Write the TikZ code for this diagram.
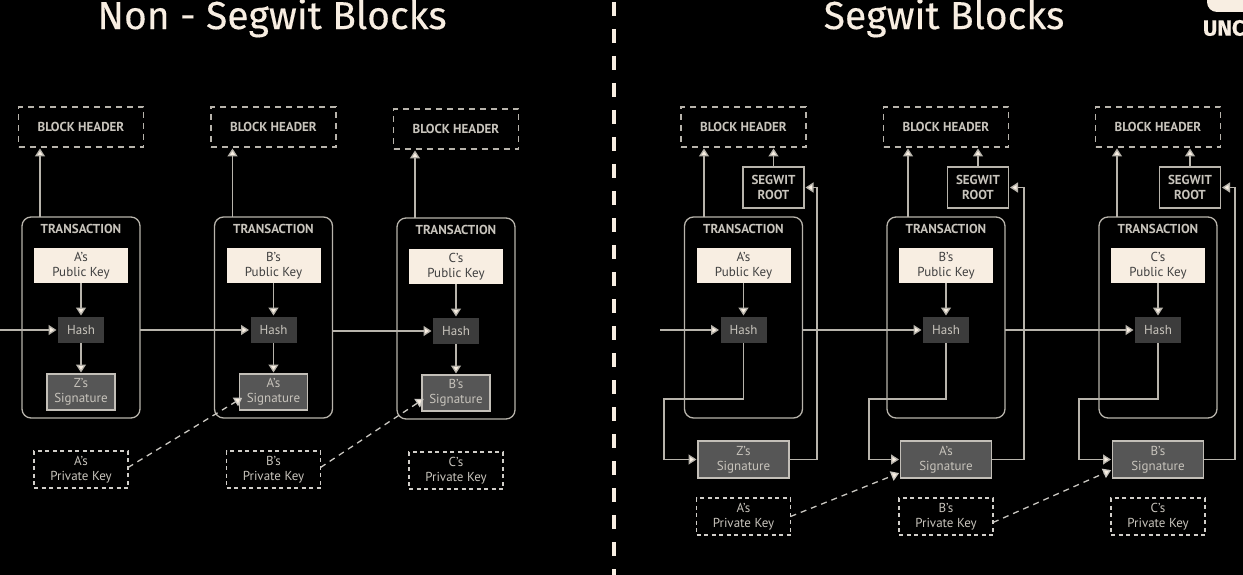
\documentclass[tikz,border=0pt]{standalone}
\usepackage{fontspec}
\setmainfont{PT Sans}
\newfontfamily\titlefont[FakeBold=0.3]{Fira Sans}
\usetikzlibrary{arrows.meta,positioning}

\definecolor{cream}{HTML}{F8EEE2}
\definecolor{linegray}{HTML}{B8B4AC}
\definecolor{labelgray}{HTML}{C8C4BC}
\definecolor{hashfill}{HTML}{3C3C3C}
\definecolor{signfill}{HTML}{565656}

\begin{document}
\begin{tikzpicture}[
    x=1pt, y=-1pt,
    node distance=30pt,
    every node/.style={font=\fontsize{13pt}{15pt}\selectfont, align=center, text=labelgray, outer sep=0pt, inner sep=0pt},
    title/.style={font=\titlefont\fontsize{39pt}{42pt}\selectfont, text=cream},
    header/.style={rectangle, draw=linegray, line width=1.3pt, dash pattern=on 6pt off 5pt, minimum width=125pt, minimum height=40pt, font=\bfseries\fontsize{13pt}{15pt}\selectfont},
    root/.style={rectangle, draw=linegray, line width=1.3pt, minimum width=61pt, minimum height=41pt, font=\bfseries\fontsize{13pt}{15pt}\selectfont},
    txn/.style={rectangle, draw=linegray, line width=1.3pt, rounded corners=9pt, minimum width=118pt, minimum height=201pt},
    txnlabel/.style={font=\bfseries\fontsize{13pt}{15pt}\selectfont},
    pubkey/.style={rectangle, fill=cream, minimum width=94pt, minimum height=35pt, text=black!75},
    hash/.style={rectangle, fill=hashfill, minimum width=46pt, minimum height=26pt},
    sign/.style={rectangle, draw=linegray!85, fill=signfill, line width=1.2pt, minimum width=68pt, minimum height=36pt},
    signwide/.style={sign, minimum width=91pt, minimum height=37pt},
    privkey/.style={rectangle, draw=linegray!65, line width=1.1pt, dash pattern=on 4pt off 3.5pt, minimum width=94pt, minimum height=37pt},
    arrow/.style={-{Triangle[length=8pt,width=10pt,fill=cream]}, draw=linegray, line width=1.3pt, shorten >=1.5pt},
    dasharrow/.style={arrow, draw=linegray!75, dash pattern=on 6pt off 5pt}
]
    \fill [black] (0,0) rectangle (1243,575);
    \useasboundingbox (0,0) rectangle (1243,575);

    \node (titleA) [title] at (272,18) {Non - Segwit Blocks};
    \node (titleB) [title] at (944,18) {Segwit Blocks};
    \coordinate (sepTop) at (614,2);
    \coordinate (sepBot) at (614,575);
    \draw [cream, line width=3.5pt, dash pattern=on 14pt off 13pt] (sepTop) -- (sepBot);

    \fill [cream, rounded corners=10pt] (1207,-20) rectangle (1262,12);
    \node (logo) [anchor=west, font=\titlefont\bfseries\fontsize{22pt}{24pt}\selectfont, text=cream] at (1203,28) {UNC};

    % left side
    \node (hdrA) [header] at (81,127) {BLOCK HEADER};
    \node (txnA) [txn] at (81,317.5) {};
    \node (labA) [txnlabel] at (81,229) {TRANSACTION};
    \node (pubA) [pubkey] at (81,265.5) {A's\\Public Key};
    \node (hashA) [hash, below=34pt of pubA] {Hash};
    \node (sigA) [sign, below=31pt of hashA] {Z's\\Signature};
    \node (privA) [privkey, below=41pt of sigA] {A's\\Private Key};

    \node (hdrB) [header] at (273.5,127) {BLOCK HEADER};
    \node (txnB) [txn] at (273.5,317.5) {};
    \node (labB) [txnlabel] at (273.5,229) {TRANSACTION};
    \node (pubB) [pubkey] at (273.5,265.5) {B's\\Public Key};
    \node (hashB) [hash, below=34pt of pubB] {Hash};
    \node (sigB) [sign, below=31pt of hashB] {A's\\Signature};
    \node (privB) [privkey, below=41pt of sigB] {B's\\Private Key};

    \node (hdrC) [header] at (456,129) {BLOCK HEADER};
    \node (txnC) [txn] at (456,318.5) {};
    \node (labC) [txnlabel] at (456,230) {TRANSACTION};
    \node (pubC) [pubkey] at (456,266.5) {C's\\Public Key};
    \node (hashC) [hash, below=34pt of pubC] {Hash};
    \node (sigC) [sign, below=31pt of hashC] {B's\\Signature};
    \node (privC) [privkey, below=41pt of sigC] {C's\\Private Key};

    \coordinate (inA) at (0,330);
    \draw [arrow] (inA) -- (hashA.west);
    \draw [arrow] (txnA.east |- hashB.west) -- (hashB.west);
    \draw [arrow] (txnB.east |- hashC.west) -- (hashC.west);

    \draw [arrow] ([xshift=-41pt]txnA.north) -- ([xshift=-41pt]hdrA.south);
    \draw [arrow] ([xshift=-41pt]txnB.north) -- ([xshift=-41pt]hdrB.south);
    \draw [arrow] ([xshift=-41pt]txnC.north) -- ([xshift=-41pt]hdrC.south);

    \draw [arrow] (pubA) -- (hashA);
    \draw [arrow] (hashA) -- (sigA);
    \draw [arrow] (pubB) -- (hashB);
    \draw [arrow] (hashB) -- (sigB);
    \draw [arrow] (pubC) -- (hashC);
    \draw [arrow] (hashC) -- (sigC);

    \draw [dasharrow] ([yshift=2pt]privA.east) -- ([xshift=4pt,yshift=-5pt]sigB.west);
    \draw [dasharrow] ([yshift=2pt]privB.east) -- ([xshift=3pt,yshift=-5pt]sigC.west);

    % right side
    \node (hdrD) [header] at (743.5,127) {BLOCK HEADER};
    \node (rootD) [root] at (773.5,187.5) {SEGWIT\\ROOT};
    \node (txnD) [txn] at (743.5,317.5) {};
    \node (labD) [txnlabel] at (743.5,229) {TRANSACTION};
    \node (pubD) [pubkey] at (743.5,265.5) {A's\\Public Key};
    \node (hashD) [hash, below=34pt of pubD] {Hash};
    \node (sigD) [signwide] at (743.5,459.5) {Z's\\Signature};
    \node (privD) [privkey, below=20pt of sigD] {A's\\Private Key};

    \node (hdrE) [header] at (946,127) {BLOCK HEADER};
    \node (rootE) [root] at (978,187.5) {SEGWIT\\ROOT};
    \node (txnE) [txn] at (946,317.5) {};
    \node (labE) [txnlabel] at (946,229) {TRANSACTION};
    \node (pubE) [pubkey] at (946,265.5) {B's\\Public Key};
    \node (hashE) [hash, below=34pt of pubE] {Hash};
    \node (sigE) [signwide] at (946,459.5) {A's\\Signature};
    \node (privE) [privkey, below=20pt of sigE] {B's\\Private Key};

    \node (hdrF) [header] at (1158,127) {BLOCK HEADER};
    \node (rootF) [root] at (1190,187.5) {SEGWIT\\ROOT};
    \node (txnF) [txn] at (1158,317.5) {};
    \node (labF) [txnlabel] at (1158,229) {TRANSACTION};
    \node (pubF) [pubkey] at (1158,265.5) {C's\\Public Key};
    \node (hashF) [hash, below=34pt of pubF] {Hash};
    \node (sigF) [signwide] at (1158,459.5) {B's\\Signature};
    \node (privF) [privkey, below=20pt of sigF] {C's\\Private Key};

    \coordinate (inD) at (660,330);
    \draw [arrow] (inD) -- (hashD.west);
    \draw [arrow] (txnD.east |- hashE.west) -- (hashE.west);
    \draw [arrow] (txnE.east |- hashF.west) -- (hashF.west);

    \draw [arrow] ([xshift=-39.5pt]txnD.north) -- ([xshift=-39.5pt]hdrD.south);
    \draw [arrow] ([xshift=-38pt]txnE.north) -- ([xshift=-38pt]hdrE.south);
    \draw [arrow] ([xshift=-41pt]txnF.north) -- ([xshift=-41pt]hdrF.south);

    \draw [arrow] (rootD.north) -- (rootD.north |- hdrD.south);
    \draw [arrow] (rootE.north) -- (rootE.north |- hdrE.south);
    \draw [arrow] (rootF.north) -- (rootF.north |- hdrF.south);

    \draw [arrow] (pubD) -- (hashD);
    \draw [arrow] (pubE) -- (hashE);
    \draw [arrow] (pubF) -- (hashF);

    % hash down to signature, signature up to root
    \coordinate (turnD) at (664,399);
    \coordinate (turnE) at (869,399);
    \coordinate (turnF) at (1079,399);
    \coordinate (riseD) at (817,459.5);
    \coordinate (riseE) at (1024,459.5);
    \coordinate (riseF) at (1235,459.5);

    \draw [arrow] (hashD.south) |- (turnD) |- (sigD.west);
    \draw [arrow] (hashE.south) |- (turnE) |- (sigE.west);
    \draw [arrow] (hashF.south) |- (turnF) |- (sigF.west);
    \draw [arrow] (sigD.east) -- (riseD) |- (rootD.east);
    \draw [arrow] (sigE.east) -- (riseE) |- (rootE.east);
    \draw [arrow] (sigF.east) -- (riseF) |- (rootF.east);

    \draw [dasharrow] (privD.east) -- ([yshift=-13pt]sigE.west);
    \draw [dasharrow] ([yshift=-6pt]privE.east) -- ([yshift=-10pt]sigF.west);
\end{tikzpicture}
\end{document}
